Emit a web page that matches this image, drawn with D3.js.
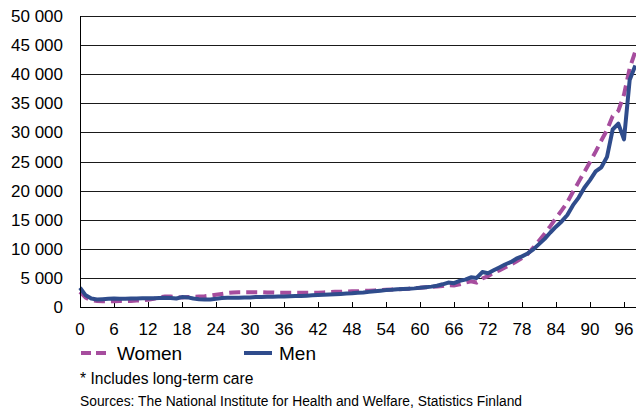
<!DOCTYPE html>
<html><head><meta charset="utf-8">
<script src="https://cdn.jsdelivr.net/npm/d3@7"></script>
<style>body{margin:0;background:#fff;}svg{display:block;font-family:"Liberation Sans",Arial,sans-serif;}</style>
</head><body>
<script>
const ages = d3.range(0, 99);
const women = [2600,1600,1150,1050,1000,1000,1000,1050,1000,1050,1100,1150,1250,1400,1650,1800,1800,1700,1650,1700,
1750,1800,1850,1950,2100,2250,2400,2500,2550,2550,2550,2550,2550,2500,2500,2450,2450,2450,2450,2450,
2450,2450,2450,2500,2550,2600,2600,2650,2700,2700,2800,2800,2850,2900,2950,3000,3050,3100,3150,3250,
3300,3400,3450,3500,3600,3750,3700,3900,4200,4400,4200,4900,5300,5900,6300,6800,7300,7800,8400,9100,
10200,11400,12600,13900,15300,16600,18000,19800,21500,23200,24900,26700,28600,30400,32800,33700,36500,41000,43900];
const men = [3300,2000,1450,1300,1350,1400,1450,1400,1400,1450,1450,1500,1500,1500,1550,1600,1550,1450,1700,1650,
1450,1350,1300,1300,1400,1550,1600,1600,1600,1650,1650,1700,1700,1750,1750,1800,1800,1850,1900,1900,
1950,2000,2050,2100,2150,2200,2250,2300,2350,2450,2500,2600,2700,2800,2900,2950,3050,3100,3150,3200,
3300,3400,3500,3650,3900,4200,4100,4500,4700,5100,5000,6000,5800,6300,6800,7300,7700,8300,8700,9200,
9900,10800,11700,12800,13800,14700,15800,17500,18800,20500,21800,23300,24000,25800,30500,31500,28800,39000,41500];
const yTicks = d3.range(0, 50001, 5000);
const xTicks = d3.range(0, 97, 6);
const seriesNames = ["Women", "Men"];
const note = "* Includes long-term care";
const source = "Sources: The National Institute for Health and Welfare, Statistics Finland";

const W = 636, H = 411;
const svg = d3.select("body").append("svg").attr("width", W).attr("height", H);
const x = d3.scaleLinear().domain([0, 99]).range([80, 641]);
const y = d3.scaleLinear().domain([0, 50000]).range([307, 16]);
const fmt = v => d3.format(",")(v).replace(/,/g, " ");

// gridlines
svg.append("g").selectAll("line").data(yTicks.filter(d => d > 0)).join("line")
  .attr("x1", 80).attr("x2", W).attr("y1", d => Math.round(y(d)) + 0.5).attr("y2", d => Math.round(y(d)) + 0.5)
  .attr("stroke", "#1a1a1a").attr("stroke-width", 1);

// y labels
svg.append("g").selectAll("text").data(yTicks).join("text")
  .attr("x", 63).attr("y", d => y(d) + 6).attr("text-anchor", "end")
  .attr("font-size", 17).attr("fill", "#000").text(fmt);

// x ticks
svg.append("g").selectAll("line").data(xTicks.filter(d => d > 0)).join("line")
  .attr("x1", d => Math.round(x(d)) + 0.5).attr("x2", d => Math.round(x(d)) + 0.5)
  .attr("y1", 302).attr("y2", 307).attr("stroke", "#000");
svg.append("g").selectAll("text").data(xTicks).join("text")
  .attr("x", d => x(d)).attr("y", 335).attr("text-anchor", "middle")
  .attr("font-size", 17).attr("fill", "#000").text(d => d);

// lines
const line = d3.line().x((d, i) => x(ages[i])).y(d => y(d));
svg.append("path").datum(women).attr("d", line).attr("fill", "none")
  .attr("stroke", "#A64D9E").attr("stroke-width", 4).attr("stroke-dasharray", "11,6");
svg.append("path").datum(men).attr("d", line).attr("fill", "none")
  .attr("stroke", "#2F4C8C").attr("stroke-width", 4).attr("stroke-linejoin", "round");

// axes lines
svg.append("line").attr("x1", 80.5).attr("x2", 80.5).attr("y1", 16).attr("y2", 307.5).attr("stroke", "#000");
svg.append("line").attr("x1", 80).attr("x2", W).attr("y1", 307.5).attr("y2", 307.5).attr("stroke", "#000");

// legend
const lg = svg.append("g");
lg.append("line").attr("x1", 81).attr("x2", 107).attr("y1", 353).attr("y2", 353)
  .attr("stroke", "#A64D9E").attr("stroke-width", 4).attr("stroke-dasharray", "10,5");
lg.append("text").attr("x", 117).attr("y", 360).attr("font-size", 19).text(seriesNames[0]);
lg.append("line").attr("x1", 244).attr("x2", 272).attr("y1", 353).attr("y2", 353)
  .attr("stroke", "#2F4C8C").attr("stroke-width", 4);
lg.append("text").attr("x", 279).attr("y", 360).attr("font-size", 19).text(seriesNames[1]);

svg.append("text").attr("x", 80).attr("y", 384).attr("font-size", 15.6).text(note);
svg.append("text").attr("x", 80).attr("y", 406).attr("font-size", 13.8).text(source);
</script>
</body></html>
